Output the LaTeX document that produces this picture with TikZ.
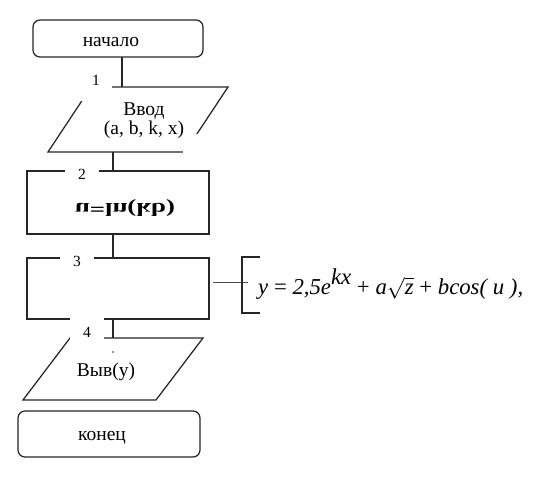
\documentclass[tikz,border=0pt]{standalone}
\usepackage{fontspec}
\setmainfont{Liberation Serif}
\usepackage{graphicx}
\usetikzlibrary{calc}
\tikzset{
  ln/.style={line width=1.25pt, draw=black!85},
  thinln/.style={line width=0.9pt, draw=black!70},
  box/.style={ln, inner sep=0pt, outer sep=0pt},
  term/.style={box, rounded corners=7pt},
  ghost/.style={draw=none, inner sep=0pt, outer sep=0pt},
  txt/.style={inner sep=0pt, font=\fontsize{19.5}{19}\selectfont, align=center},
  num/.style={inner sep=0pt, font=\fontsize{15.5}{16}\selectfont},
  gap/.style={fill=white, draw=none}
}
\begin{document}
\begin{tikzpicture}[x=1pt,y=-1pt]
\useasboundingbox[fill=white] (0,0) rectangle (539,477);

% shapes
\node[term, minimum width=170pt, minimum height=37pt] (start) at (118,38.5) {};
\node[ghost, minimum width=180pt, minimum height=65pt] (in) at (138,119.5) {};
\draw[ln] ($(in.north west)+(43pt,0)$) -- (in.north east) -- ($(in.south east)-(43pt,0)$) -- (in.south west) -- cycle;
\node[box, draw, minimum width=182pt, minimum height=63pt] (b2) at (118,202.5) {};
\node[box, draw, minimum width=182pt, minimum height=61pt] (b3) at (118,288.5) {};
\node[ghost, minimum width=180pt, minimum height=62pt] (out) at (113,369) {};
\draw[ln] ($(out.north west)+(47pt,0)$) -- (out.north east) -- ($(out.south east)-(47pt,0)$) -- (out.south west) -- cycle;
\node[term, minimum width=182pt, minimum height=46pt] (end) at (109,434) {};

% connectors
\draw[ln] ([xshift=4pt]start.south) -- ([xshift=4pt]start.south |- in.north);
\draw[ln] ([xshift=-5pt]b2.north) -- ([xshift=-5pt]b2.north |- in.south);
\draw[ln] ([xshift=-5pt]b2.south) -- ([xshift=-5pt]b3.north);
\draw[ln] ([xshift=-5pt]b3.south) -- ([xshift=-5pt]b3.south |- out.north);

% annotation
\coordinate (lend) at (248,282);
\coordinate (bt) at (260,257);
\coordinate (bb) at (260,313);
\draw[thinln] ([xshift=4pt,yshift=6.5pt]b3.east) -- (lend);
\draw[ln] (bt) -- (bt -| 242,0) -- (bb -| 242,0) -- (bb);

% gaps left by the label boxes
\fill[gap] (80,68) rectangle (112.3,101);
\fill[gap] (183,134) rectangle (200,153.6);
\fill[gap] (65,164) rectangle (99,180);
\fill[gap] (60,251) rectangle (94,266);
\fill[gap] (70,312) rectangle (104,344.5);

% texts
\node[txt] (tstart) at (111,42) {начало};
\node[txt] (tin) at (144,121) {Ввод\\(a, b, k, x)};
\node[inner sep=0pt] (tb2) at (125,208) {\scalebox{1}[-1]{\resizebox{100pt}{13pt}{\fontsize{16}{17}\selectfont\bfseries u=ln(kb)}}};
\node[txt] (tout) at (106,372) {Выв(у)};
\node[txt] (tend) at (102,438) {конец};
\node[num] (n1) at (96,80) {1};
\node[num] (n2) at (82,174) {2};
\node[num] (n3) at (77,261) {3};
\node[num] (n4) at (87,332) {4};
\fill[black!80] (113,352) circle (0.8pt);

\node[anchor=west, inner sep=0pt] (f) at (258,284) {\resizebox{265pt}{!}{\fontsize{22}{24}\selectfont\itshape y\/ \upshape=\itshape{} 2,5e\raisebox{0.45em}{kx}\/ \upshape+\itshape{} a$\sqrt{\mathit{z}}$ \upshape+\itshape{} bcos( u ),}};
\end{tikzpicture}
\end{document}
